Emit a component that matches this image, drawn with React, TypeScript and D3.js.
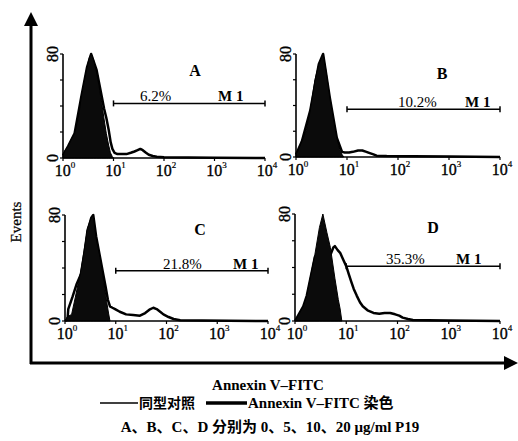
import React from "react";
import * as d3 from "d3";

// histogram points: [fluorescence, events]
const isoA = [[1, 2], [1.1, 6], [1.26, 9], [1.45, 14], [1.7, 19], [2, 30], [2.3, 47], [2.6, 58], [3, 70], [3.3, 77], [3.6, 80], [4, 76], [4.6, 66], [5.2, 55], [5.8, 43], [6.5, 30], [7.2, 19], [8, 10], [8.7, 4], [9.5, 1], [10, 0]];
const annA = [[1, 2], [1.26, 9], [1.7, 19], [2.3, 47], [3, 70], [3.6, 80], [4.6, 68], [5.8, 48], [6.5, 38], [7.2, 31], [8, 22], [8.8, 12], [9.5, 7], [10.5, 4], [12, 3], [15, 3], [18, 3], [22, 4], [26, 5], [30, 6], [34, 7], [38, 6], [44, 4], [50, 2.5], [60, 1.5], [72, 1], [100, 0.6], [300, 0.4], [1000, 0.2], [10000, 0]];

const isoB = [[1, 2], [1.1, 5], [1.3, 12], [1.6, 21], [1.9, 36], [2.35, 60], [2.8, 72], [3.4, 80], [3.9, 66], [4.6, 46], [5.4, 30], [6.3, 15], [7.2, 6], [8, 2], [8.6, 0]];
const annB = [[1, 2], [1.3, 12], [1.9, 36], [2.8, 72], [3.4, 80], [4.6, 46], [6.3, 15], [8, 4], [9, 3.5], [11, 3.5], [13, 4], [16.5, 5], [20, 5], [24, 4], [28, 3], [33, 2], [38, 1], [60, 0.7], [200, 0.5], [1000, 0.3], [10000, 0]];

const isoC = [[1, 0], [1.1, 3], [1.35, 5], [1.6, 18], [2, 36], [2.35, 52], [2.7, 69], [3.2, 77], [3.6, 80], [4.1, 62], [4.9, 48], [5.6, 34], [6.6, 15], [7.2, 6], [7.7, 0]];
const annC = [[1, 0], [1.12, 1], [1.16, 9], [1.4, 18], [1.7, 28], [2.1, 36], [2.5, 55], [2.9, 70], [3.3, 78], [3.6, 80], [4.1, 64], [4.8, 50], [5.5, 38], [6.3, 26], [7, 16], [7.7, 11], [8.6, 10], [9.7, 9], [12, 7], [16, 5], [22, 4.5], [30, 4], [38, 6], [46, 8.5], [55, 10], [64, 9], [75, 7], [87, 5], [110, 3], [138, 1.5], [186, 0.5], [500, 0.3], [10000, 0]];

const isoD = [[1, 0], [1.15, 4], [1.45, 11], [1.7, 19], [2.45, 50], [3, 70], [3.5, 80], [4.2, 66], [4.9, 55], [6, 32], [7, 16], [7.6, 9], [8.2, 0]];
const annD = [[1, 0], [1.45, 11], [1.7, 19], [2.45, 48], [3.1, 48], [4, 46], [4.6, 48], [5.1, 51], [5.6, 55], [6, 56], [6.8, 53], [7.6, 51], [8.7, 46], [10, 41], [11.2, 35], [12.6, 29], [14, 24], [16, 19], [18.5, 14], [21, 11], [26, 8], [34, 6], [44, 5.5], [56, 6], [72, 6], [90, 5], [108, 4], [126, 2.5], [160, 1.5], [200, 0.8], [400, 0.5], [1000, 0.3], [10000, 0]];

const panelLetters = ["A", "B", "C", "D"];
const percents = ["6.2%", "10.2%", "21.8%", "35.3%"];
const gateLevels = [42, 37, 38, 41];
const isoSeries = [isoA, isoB, isoC, isoD];
const annSeries = [annA, annB, annC, annD];
const xTicks = [1, 10, 100, 1000, 10000];
const yTicks = [0, 20, 40, 60, 80];

// frame of each panel plus where its labels sit
const layout = [
  { l: 63, r: 265, t: 54, b: 158, lx: 132, ly: 22, px: 77, mx: 155 },
  { l: 296, r: 500, t: 54, b: 157, lx: 146, ly: 25, px: 102, mx: 169 },
  { l: 65, r: 268, t: 215, b: 321, lx: 135, ly: 20, px: 98, mx: 168 },
  { l: 295, r: 500, t: 214, b: 321, lx: 138, ly: 19, px: 91, mx: 161 },
];

const serif = "'Liberation Serif', 'Times New Roman', 'Noto Sans CJK SC', serif";

function Panel({ i }: { i: number }) {
  const p = layout[i];
  const x = d3.scaleLog().domain([1, 10000]).range([p.l, p.r]);
  const y = d3.scaleLinear().domain([0, 80]).range([p.b, p.t]);
  const line = d3.line<number[]>().x((d) => x(d[0])).y((d) => y(d[1]));
  const area = d3.area<number[]>().x((d) => x(d[0])).y0(p.b).y1((d) => y(d[1]));
  const gy = y(gateLevels[i]);
  const g0 = x(10);
  const g1 = x(10000);

  return (
    <g>
      <path d={line(annSeries[i]) || ""} fill="none" stroke="#000" strokeWidth={2.5} strokeLinejoin="round" />
      <path d={area(isoSeries[i]) || ""} fill="#0b0b0b" stroke="#000" strokeWidth={1} />

      {/* axes */}
      <line x1={p.l} x2={p.l} y1={p.b} y2={p.t} stroke="#000" strokeWidth={1.6} />
      <line x1={p.l} x2={p.r} y1={p.b} y2={p.b} stroke="#000" strokeWidth={1.6} />
      {yTicks.map((t) => (
        <line key={t} x1={p.l - 3} x2={p.l} y1={y(t)} y2={y(t)} stroke="#000" strokeWidth={1.2} />
      ))}
      {xTicks.map((t) => (
        <line key={t} x1={x(t)} x2={x(t)} y1={p.b} y2={p.b + 3} stroke="#000" strokeWidth={1.2} />
      ))}
      {xTicks.map((t, k) => (
        <text key={t} x={x(t) + 2} y={p.b + 18} fontSize={16} fontFamily={serif} textAnchor="middle"
          stroke="#000" strokeWidth={0.35}>
          10
          <tspan fontSize={9} dy={-8} strokeWidth={0.2}>{k}</tspan>
        </text>
      ))}
      {[0, 80].map((t) => (
        <text key={t} transform={`translate(${p.l - 5},${y(t)}) rotate(-90)`} fontSize={16}
          fontFamily={serif} textAnchor="middle" stroke="#000" strokeWidth={0.35}>
          {t}
        </text>
      ))}

      {/* M1 gate */}
      <line x1={g0} x2={g1} y1={gy} y2={gy} stroke="#000" strokeWidth={1.5} />
      <line x1={g0} x2={g0} y1={gy - 3} y2={gy + 3} stroke="#000" strokeWidth={1.5} />
      <line x1={g1} x2={g1} y1={gy - 3} y2={gy + 3} stroke="#000" strokeWidth={1.5} />
      <text x={p.l + p.px} y={gy - 2} fontSize={15} fontFamily={serif}>{percents[i]}</text>
      <text x={p.l + p.mx} y={gy - 2} fontSize={15} fontWeight="bold" fontFamily={serif}>M 1</text>
      <text x={p.l + p.lx} y={p.t + p.ly} fontSize={16} fontWeight="bold" fontFamily={serif} textAnchor="middle">
        {panelLetters[i]}
      </text>
    </g>
  );
}

export default function App() {
  return (
    <svg width={518} height={441} style={{ position: "absolute", left: 0, top: 0, background: "#fff" }}>
      <rect width={518} height={441} fill="#fff" />
      {/* outer frame with arrows */}
      <line x1={31} x2={31} y1={364} y2={22} stroke="#000" strokeWidth={3} />
      <path d="M24,26 L31,12 L38,26 Z" fill="#000" />
      <line x1={30} x2={506} y1={363} y2={363} stroke="#000" strokeWidth={3} />
      <path d="M504,356 L518,363 L504,370 Z" fill="#000" />
      <text transform="translate(21,222) rotate(-90)" fontSize={15} fontFamily={serif} textAnchor="middle"
        stroke="#000" strokeWidth={0.25}>
        Events
      </text>

      {layout.map((_, i) => (
        <Panel key={i} i={i} />
      ))}

      <text x={268} y={390} fontSize={15} fontWeight="bold" fontFamily={serif} textAnchor="middle">
        Annexin V–FITC
      </text>
      <line x1={100} x2={138} y1={403} y2={403} stroke="#000" strokeWidth={1.5} />
      <text x={139} y={408} fontSize={14} fontWeight="bold" fontFamily={serif}>同型对照</text>
      <line x1={206} x2={247} y1={403} y2={403} stroke="#000" strokeWidth={3.5} />
      <text x={248} y={408} fontSize={15} fontWeight="bold" fontFamily={serif}>Annexin V–FITC 染色</text>
      <text x={270} y={432} fontSize={15} fontWeight="bold" fontFamily={serif} textAnchor="middle">
        A、B、C、D 分别为 0、5、10、20 μg/ml P19
      </text>
    </svg>
  );
}
